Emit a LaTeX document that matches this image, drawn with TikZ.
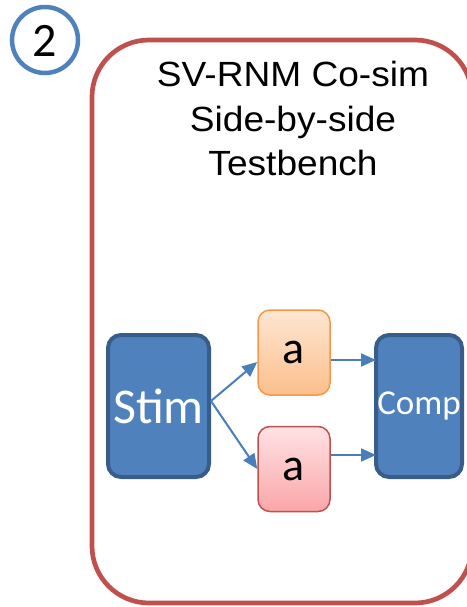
\documentclass[tikz,border=0pt]{standalone}
\usepackage{fontspec}
\setmainfont{Liberation Sans}
\newfontfamily\titlefont{Liberation Sans}[FakeStretch=1.06]
\newfontfamily\calfont{Carlito}
\usetikzlibrary{arrows.meta}

\definecolor{frameRed}{HTML}{C0504D}
\definecolor{ringBlue}{HTML}{4F81BD}
\definecolor{blkFill}{HTML}{4F81BD}
\definecolor{blkLine}{HTML}{385D8A}
\definecolor{arrBlue}{HTML}{4A7EBB}
\definecolor{orgLine}{HTML}{F79646}
\definecolor{orgTop}{HTML}{FEE6D2}
\definecolor{orgBot}{HTML}{FBBF8C}
\definecolor{redTop}{HTML}{FFE2E4}
\definecolor{redBot}{HTML}{FAA6A8}

\tikzset{
  blk/.style={draw=blkLine,fill=blkFill,line width=4pt,rounded corners=13pt,
    inner sep=0pt,text=white,font=\calfont},
  model/.style={line width=1.5pt,rounded corners=12pt,inner sep=0pt,
    minimum width=72pt,minimum height=85pt,font=\calfont\fontsize{46}{50}\selectfont},
  arr/.style={draw=arrBlue,line width=2pt,-{Triangle[length=15pt,width=13pt]}}
}

\begin{document}
\begin{tikzpicture}[x=1pt,y=-1pt]
\useasboundingbox (0,0) rectangle (466,607);
% numbered badge
\draw[ringBlue,line width=4.5pt] (45,40) circle (33);
\node (num) at (45,41) {\calfont\fontsize{48}{50}\selectfont 2};
% testbench frame
\draw[frameRed,line width=4.7pt,rounded corners=57pt] (92,40) rectangle (472,603);
\node[anchor=north,align=center,inner sep=0pt,
  font=\titlefont\fontsize{35}{44.5}\selectfont] (title) at (293,61)
  {SV-RNM Co-sim\\Side-by-side\\Testbench};

\node[blk,minimum width=101pt,minimum height=142pt,
  font=\calfont\fontsize{50}{54}\selectfont] (stim) at (158.5,406) {Stim};
\node[model,draw=orgLine,top color=orgTop,bottom color=orgBot] (orng) at (294,352.5) {a};
\node[model,draw=frameRed,top color=redTop,bottom color=redBot] (rd) at (294,469) {a};
\node[blk,minimum width=86pt,minimum height=142pt,
  font=\calfont\fontsize{35}{40}\selectfont] (comp) at (419,406) {Comp};

\draw[arr] ([yshift=5pt]stim.east) -- ([yshift=-9.5pt]orng.west);
\draw[arr] ([yshift=5pt]stim.east) -- (rd.west);
\draw[arr] ([yshift=-7.5pt]orng.east) -- ([yshift=-7.5pt,xshift=2pt]orng.east -| comp.west);
\draw[arr] ([yshift=14pt]rd.east) -- ([yshift=14pt,xshift=2pt]rd.east -| comp.west);
\end{tikzpicture}
\end{document}
